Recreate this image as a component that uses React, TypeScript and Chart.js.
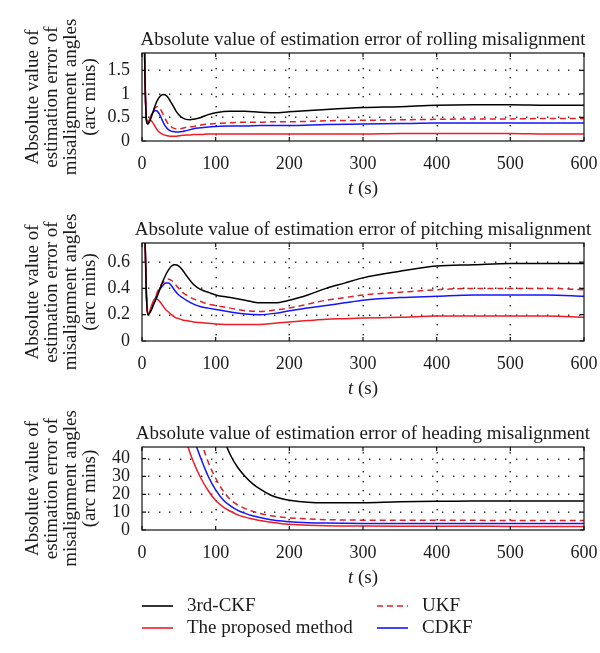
import React, { useEffect, useRef } from 'react';
import { Chart, registerables } from 'chart.js';

Chart.register(...registerables);

const W = 600;
const H = 653;
const FONT = '"Liberation Serif", "Times New Roman", serif';

// ---------- legend / series ----------
const seriesNames = ['3rd-CKF', 'The proposed method', 'UKF', 'CDKF'];

// ---------- axis ticks ----------
const xTicks = [0, 100, 200, 300, 400, 500, 600];
const xTickLabels = ['0', '100', '200', '300', '400', '500', '600'];

const rollTicks = [0, 0.5, 1, 1.5];
const rollTickLabels = ['0', '0.5', '1', '1.5'];
const pitchTicks = [0, 0.2, 0.4, 0.6];
const pitchTickLabels = ['0', '0.2', '0.4', '0.6'];
const headTicks = [0, 10, 20, 30, 40];
const headTickLabels = ['0', '10', '20', '30', '40'];

// ---------- rolling misalignment ----------
const rollTime = [0, 2, 4, 6, 8, 10, 12, 15, 18, 21, 24, 27, 30, 34, 38, 42, 46, 50, 55, 60, 65, 70, 80, 90, 100, 120, 140, 160, 180, 200, 250, 300, 350, 400, 450, 500, 550, 600];
const rollCKF = [6, 3.5, 1.4, 0.45, 0.36, 0.4, 0.48, 0.62, 0.76, 0.87, 0.94, 0.98, 0.99, 0.95, 0.86, 0.75, 0.64, 0.56, 0.49, 0.46, 0.45, 0.46, 0.5, 0.56, 0.6, 0.63, 0.63, 0.61, 0.6, 0.62, 0.67, 0.71, 0.73, 0.76, 0.77, 0.77, 0.76, 0.76];
const rollProposed = [6, 3.5, 1.4, 0.45, 0.4, 0.45, 0.44, 0.38, 0.3, 0.23, 0.18, 0.15, 0.13, 0.11, 0.1, 0.1, 0.1, 0.11, 0.12, 0.13, 0.13, 0.14, 0.14, 0.15, 0.15, 0.15, 0.15, 0.15, 0.15, 0.15, 0.15, 0.15, 0.16, 0.16, 0.16, 0.16, 0.15, 0.15];
const rollUKF = [6, 3.5, 1.4, 0.45, 0.37, 0.42, 0.52, 0.63, 0.71, 0.73, 0.7, 0.62, 0.52, 0.4, 0.32, 0.28, 0.26, 0.26, 0.27, 0.29, 0.3, 0.31, 0.34, 0.36, 0.37, 0.39, 0.4, 0.4, 0.41, 0.41, 0.43, 0.44, 0.45, 0.46, 0.47, 0.47, 0.48, 0.48];
const rollCDKF = [6, 3.5, 1.4, 0.45, 0.37, 0.43, 0.52, 0.61, 0.65, 0.63, 0.56, 0.46, 0.36, 0.27, 0.22, 0.2, 0.19, 0.19, 0.2, 0.22, 0.24, 0.26, 0.28, 0.3, 0.31, 0.32, 0.32, 0.33, 0.33, 0.33, 0.35, 0.36, 0.37, 0.38, 0.38, 0.38, 0.38, 0.38];

// ---------- pitching misalignment ----------
const pitchTime = [0, 2, 4, 6, 8, 10, 13, 16, 20, 24, 28, 32, 36, 40, 45, 50, 55, 60, 70, 80, 90, 100, 120, 140, 160, 180, 200, 225, 250, 275, 300, 350, 400, 450, 500, 550, 600];
const pitchCKF = [3, 1.5, 0.8, 0.35, 0.2, 0.21, 0.24, 0.28, 0.33, 0.39, 0.45, 0.5, 0.54, 0.57, 0.58, 0.57, 0.54, 0.5, 0.43, 0.39, 0.37, 0.35, 0.33, 0.31, 0.29, 0.29, 0.31, 0.35, 0.4, 0.44, 0.48, 0.53, 0.57, 0.58, 0.59, 0.59, 0.59];
const pitchProposed = [3, 1.5, 0.8, 0.35, 0.2, 0.22, 0.27, 0.31, 0.32, 0.3, 0.27, 0.24, 0.22, 0.2, 0.18, 0.17, 0.16, 0.155, 0.145, 0.14, 0.135, 0.13, 0.125, 0.125, 0.125, 0.135, 0.145, 0.155, 0.165, 0.17, 0.175, 0.18, 0.19, 0.19, 0.19, 0.19, 0.18];
const pitchUKF = [3, 1.5, 0.8, 0.35, 0.2, 0.21, 0.25, 0.3, 0.36, 0.41, 0.44, 0.46, 0.47, 0.46, 0.43, 0.4, 0.37, 0.35, 0.32, 0.3, 0.28, 0.27, 0.25, 0.23, 0.225, 0.235, 0.25, 0.28, 0.31, 0.33, 0.35, 0.37, 0.39, 0.4, 0.4, 0.4, 0.39];
const pitchCDKF = [3, 1.5, 0.8, 0.35, 0.2, 0.21, 0.25, 0.3, 0.35, 0.39, 0.42, 0.44, 0.44, 0.42, 0.38, 0.35, 0.33, 0.31, 0.28, 0.26, 0.25, 0.24, 0.22, 0.205, 0.2, 0.21, 0.23, 0.25, 0.27, 0.29, 0.31, 0.33, 0.34, 0.35, 0.35, 0.35, 0.34];

// ---------- heading misalignment ----------
const headTime = [0, 20, 40, 60, 70, 80, 90, 100, 110, 120, 130, 140, 150, 160, 175, 190, 200, 225, 250, 300, 350, 400, 450, 500, 550, 600];
const headCKF = [300, 250, 200, 150, 120, 100, 80, 64, 52, 42, 35, 30, 26, 23, 19.5, 17.5, 16.7, 15.5, 15.2, 15.3, 15.8, 16.1, 16.3, 16.3, 16.3, 16.3];
const headProposed = [250, 150, 90, 50, 38, 29, 22, 16.5, 13, 10.5, 8.5, 7.2, 6.2, 5.3, 4.3, 3.5, 3.2, 2.7, 2.4, 2.2, 2.1, 2.1, 2.1, 2.0, 2.0, 2.0];
const headUKF = [300, 220, 150, 90, 65, 50, 38, 29, 22, 17, 14, 12, 10.5, 9.3, 8, 7.2, 6.8, 6.2, 5.8, 5.5, 5.4, 5.4, 5.4, 5.3, 5.3, 5.3];
const headCDKF = [280, 190, 120, 70, 52, 40, 30, 22.5, 17, 13.5, 11, 9.3, 8, 7, 5.8, 5, 4.6, 4.1, 3.9, 3.7, 3.6, 3.6, 3.6, 3.6, 3.6, 3.6];

const yTitleLines = ['Absolute value of', 'estimation error of', 'misalignment angles', '(arc mins)'];

const COLORS = ['#000000', '#ee1c24', '#dd2228', '#1414ff'];
const DASHES: number[][] = [[], [], [6, 4], []];

const PLOT_LEFT = 142;
const PLOT_RIGHT = 584;

type Panel = {
  title: string;
  top: number;
  bottom: number;
  ymax: number;
  yTicks: number[];
  yLabels: string[];
  time: number[];
  series: number[][];
  legend: boolean;
};

const panels: Panel[] = [
  { title: 'Absolute value of estimation error of rolling misalignment', top: 53, bottom: 141, ymax: 1.87, yTicks: rollTicks, yLabels: rollTickLabels, time: rollTime, series: [rollCKF, rollProposed, rollUKF, rollCDKF], legend: false },
  { title: 'Absolute value of estimation error of pitching misalignment', top: 243, bottom: 341, ymax: 0.745, yTicks: pitchTicks, yLabels: pitchTickLabels, time: pitchTime, series: [pitchCKF, pitchProposed, pitchUKF, pitchCDKF], legend: false },
  { title: 'Absolute value of estimation error of heading misalignment', top: 447, bottom: 530, ymax: 46.5, yTicks: headTicks, yLabels: headTickLabels, time: headTime, series: [headCKF, headProposed, headUKF, headCDKF], legend: true },
];

const decorPlugin = {
  id: 'decor',
  beforeDatasetsDraw(chart: any, _args: any, opts: any) {
    const { ctx, chartArea: a, scales } = chart;
    ctx.save();
    ctx.fillStyle = '#222';
    for (const v of xTicks) {
      const px = Math.round(scales.x.getPixelForValue(v));
      if (px <= a.left + 2 || px >= a.right - 2) continue;
      for (let y = a.top + 5; y < a.bottom - 2; y += 9.5) ctx.fillRect(px - 0.5, Math.round(y), 1.4, 1.4);
    }
    for (const v of opts.yTicks as number[]) {
      const py = Math.round(scales.y.getPixelForValue(v));
      if (py <= a.top + 2 || py >= a.bottom - 2) continue;
      for (let x = a.left + 6; x < a.right - 2; x += 10.5) ctx.fillRect(Math.round(x), py - 0.5, 1.4, 1.4);
    }
    ctx.restore();
  },
  afterDatasetsDraw(chart: any, _args: any, opts: any) {
    const { ctx, chartArea: a, scales } = chart;
    ctx.save();
    ctx.strokeStyle = '#111';
    ctx.lineWidth = 1.2;
    ctx.strokeRect(a.left, a.top, a.right - a.left, a.bottom - a.top);
    ctx.beginPath();
    for (const v of xTicks) {
      const px = scales.x.getPixelForValue(v);
      ctx.moveTo(px, a.bottom); ctx.lineTo(px, a.bottom - 4);
      ctx.moveTo(px, a.top); ctx.lineTo(px, a.top + 4);
    }
    for (const v of opts.yTicks as number[]) {
      const py = scales.y.getPixelForValue(v);
      ctx.moveTo(a.left, py); ctx.lineTo(a.left + 4, py);
      ctx.moveTo(a.right, py); ctx.lineTo(a.right - 4, py);
    }
    ctx.stroke();

    const cx = (a.left + a.right) / 2;
    ctx.fillStyle = '#1a1a1a';
    ctx.textBaseline = 'middle';
    // panel title
    ctx.font = `19px ${FONT}`;
    ctx.textAlign = 'center';
    ctx.fillText(opts.title, cx, a.top - 13);
    // x axis title "t (s)" with italic t
    const ty = a.bottom + 48;
    ctx.font = `italic 19px ${FONT}`;
    const tw = ctx.measureText('t').width;
    ctx.font = `19px ${FONT}`;
    const rest = ' (s)';
    const rw = ctx.measureText(rest).width;
    const sx = cx - (tw + rw) / 2;
    ctx.textAlign = 'left';
    ctx.font = `italic 19px ${FONT}`;
    ctx.fillText('t', sx, ty);
    ctx.font = `19px ${FONT}`;
    ctx.fillText(rest, sx + tw, ty);

    if (opts.legend) {
      const rows = [606, 628];
      const cols = [{ lx: 142, tx: 187 }, { lx: 377, tx: 422 }];
      const order = [[0, 2], [1, 3]];
      ctx.font = `19px ${FONT}`;
      for (let r = 0; r < 2; r++) {
        for (let c = 0; c < 2; c++) {
          const i = order[r][c];
          const y = rows[r];
          ctx.strokeStyle = COLORS[i];
          ctx.lineWidth = 1.6;
          ctx.setLineDash(DASHES[i]);
          ctx.beginPath();
          ctx.moveTo(cols[c].lx, y);
          ctx.lineTo(cols[c].lx + 31, y);
          ctx.stroke();
          ctx.setLineDash([]);
          ctx.fillStyle = '#1a1a1a';
          ctx.fillText(seriesNames[i], cols[c].tx, y);
        }
      }
    }
    ctx.restore();
  },
};

function PanelChart({ p }: { p: Panel }) {
  const ref = useRef<HTMLCanvasElement | null>(null);
  useEffect(() => {
    if (!ref.current) return;
    const chart = new Chart(ref.current, {
      type: 'line',
      data: {
        datasets: p.series.map((vals, i) => ({
          label: seriesNames[i],
          data: p.time.map((t, j) => ({ x: t, y: vals[j] })),
          borderColor: COLORS[i],
          borderWidth: 1.5,
          borderDash: DASHES[i],
          pointRadius: 0,
          fill: false,
          cubicInterpolationMode: 'monotone' as const,
        })),
      },
      options: {
        responsive: false,
        animation: false,
        events: [],
        layout: { padding: { left: PLOT_LEFT - 141, right: W - PLOT_RIGHT, top: p.top, bottom: 0 } },
        plugins: {
          legend: { display: false },
          tooltip: { enabled: false },
          decor: { title: p.title, yTicks: p.yTicks, legend: p.legend },
        } as any,
        scales: {
          x: {
            type: 'linear',
            min: 0,
            max: 600,
            afterFit: (s: any) => { s.height = H - p.bottom; s.paddingLeft = 0; s.paddingRight = 0; },
            afterBuildTicks: (s: any) => { s.ticks = xTicks.map((v) => ({ value: v })); },
            ticks: {
              font: { family: FONT, size: 18 },
              color: '#1a1a1a',
              padding: 4,
              maxRotation: 0,
              autoSkip: false,
              callback: (_v: any, idx: number) => xTickLabels[idx],
            },
            grid: { display: false },
            border: { display: false },
          },
          y: {
            type: 'linear',
            min: 0,
            max: p.ymax,
            afterFit: (s: any) => { s.width = 141; s.paddingTop = 0; s.paddingBottom = 0; },
            afterBuildTicks: (s: any) => { s.ticks = p.yTicks.map((v) => ({ value: v })); },
            ticks: {
              font: { family: FONT, size: 18 },
              color: '#1a1a1a',
              padding: 4,
              autoSkip: false,
              callback: (_v: any, idx: number) => p.yLabels[idx],
            },
            grid: { display: false },
            border: { display: false },
            title: {
              display: true,
              text: yTitleLines,
              font: { family: FONT, size: 19, lineHeight: 1.0 },
              color: '#1a1a1a',
              padding: { top: 23, bottom: 0 },
            },
          },
        },
      },
      plugins: [decorPlugin],
    } as any);
    return () => chart.destroy();
  }, [p]);
  return (
    <canvas
      ref={ref}
      width={W}
      height={H}
      style={{ position: 'absolute', left: 0, top: 0, width: W, height: H, pointerEvents: 'none' }}
    />
  );
}

export default function App() {
  return (
    <div style={{ position: 'absolute', left: 0, top: 0, width: W, height: H, background: '#fff' }}>
      {panels.map((p, i) => (
        <PanelChart key={i} p={p} />
      ))}
    </div>
  );
}
